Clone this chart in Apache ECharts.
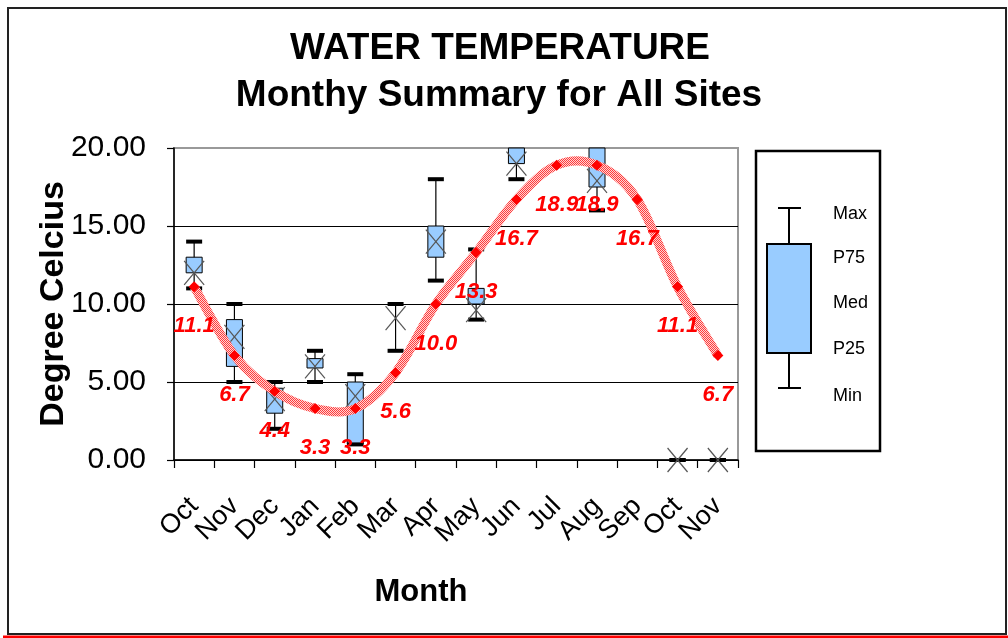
<!DOCTYPE html>
<html>
<head>
<meta charset="utf-8">
<script src="https://cdn.jsdelivr.net/npm/echarts@6/dist/echarts.min.js"></script>
<style>
html,body{margin:0;padding:0;background:#fff;}
#chart{width:1008px;height:638px;}
</style>
</head>
<body>
<div id="chart"></div>
<script>
// ---- data ----
const months = ['Oct','Nov','Dec','Jan','Feb','Mar','Apr','May','Jun','Jul','Aug','Sep','Oct','Nov'];
const boxMin = [11, 5, 2, 5, 1, 7, 11.5, 9, 18, null, 16, null, 0, 0];
const boxP25 = [12, 6, 3, 5.9, 1, null, 13, 10, 19, null, 17.5, null, null, null];
const boxP75 = [13, 9, 4.6, 6.5, 5, null, 15, 11, 20.5, null, 20.5, null, null, null];
const boxMax = [14, 10, 5, 7, 5.5, 10, 18, 13.5, 21, null, 21, null, 0, 0];
const boxMark = [12, 7.9, 3.9, 6.0, 4.1, 9.1, 14, 9.6, 19, null, 17.9, null, 0, 0];
const trend = [11.1, 6.7, 4.4, 3.3, 3.3, 5.6, 10.0, 13.3, 16.7, 18.9, 18.9, 16.7, 11.1, 6.7];
const yTicks = [0, 5, 10, 15, 20];
const legendLabels = ['Max', 'P75', 'Med', 'P25', 'Min'];

const FONT = "'Liberation Sans', Arial, sans-serif";

const boxData = months.map((m, i) => [i, boxMin[i], boxP25[i], boxMark[i], boxP75[i], boxMax[i]]);
const trendData = trend.map((v, i) => [i, v]);

// pattern for thick trend line
const pc = document.createElement('canvas');
pc.width = 2; pc.height = 2;
const pctx = pc.getContext('2d');
pctx.fillStyle = '#ffd4d4'; pctx.fillRect(0, 0, 2, 2);
pctx.fillStyle = '#ff3c3c'; pctx.fillRect(0, 0, 1, 1); pctx.fillRect(1, 1, 1, 1);

function renderBox(params, api) {
  const cs = params.coordSys;
  const top = cs.y, bottom = cs.y + cs.height;
  const idx = api.value(0);
  const vMin = api.value(1), vP25 = api.value(2), vMark = api.value(3), vP75 = api.value(4), vMax = api.value(5);
  if (vMin == null || isNaN(vMin)) return null;
  const cl = y => Math.max(top, Math.min(bottom, y));
  const xc = api.coord([idx, 0])[0];
  const y = v => api.coord([idx, v])[1];
  const hw = 8;
  const children = [];
  const yMin = y(vMin), yMax = y(vMax);
  children.push({type: 'line', shape: {x1: xc, y1: cl(yMax), x2: xc, y2: cl(yMin)}, style: {stroke: '#000', lineWidth: 1.2}});
  if (vP25 != null && !isNaN(vP25) && vP75 != null && !isNaN(vP75)) {
    const y1 = cl(y(vP75)), y2 = cl(y(vP25));
    children.push({type: 'rect', shape: {x: xc - hw, y: y1, width: hw * 2, height: y2 - y1},
      style: {fill: '#99ccff', stroke: '#000', lineWidth: 1}});
  }
  [yMax, yMin].forEach(yy => {
    if (yy >= top - 0.5 && yy <= bottom + 0.5) {
      children.push({type: 'rect', shape: {x: xc - hw, y: yy - 2, width: hw * 2, height: 4}, style: {fill: '#000'}});
    }
  });
  if (vMark != null && !isNaN(vMark)) {
    const ym = y(vMark);
    children.push({type: 'line', shape: {x1: xc - 10, y1: ym - 12, x2: xc + 10, y2: ym + 12}, style: {stroke: '#555', lineWidth: 1.2}});
    children.push({type: 'line', shape: {x1: xc + 10, y1: ym - 12, x2: xc - 10, y2: ym + 12}, style: {stroke: '#555', lineWidth: 1.2}});
  }
  return {type: 'group', children};
}

// Excel-like smoothed line: one cubic Bezier segment per interval (Catmull-Rom tangents)
function renderSpline(params, api) {
  const i = api.value(0);
  const n = trend.length;
  if (i >= n - 1) return null;
  const P = j => {
    const k = Math.max(0, Math.min(n - 1, j));
    return api.coord([k, trend[k]]);
  };
  const p0 = P(i - 1), p1 = P(i), p2 = P(i + 1), p3 = P(i + 2);
  const t = 1 / 6;
  return {
    type: 'bezierCurve',
    shape: {
      x1: p1[0], y1: p1[1], x2: p2[0], y2: p2[1],
      cpx1: p1[0] + (p2[0] - p0[0]) * t, cpy1: p1[1] + (p2[1] - p0[1]) * t,
      cpx2: p2[0] - (p3[0] - p1[0]) * t, cpy2: p2[1] - (p3[1] - p1[1]) * t
    },
    style: {fill: null, stroke: {image: pc, repeat: 'repeat'}, lineWidth: 9}
  };
}

const chart = echarts.init(document.getElementById('chart'), null, {renderer: 'canvas'});

const legendX = 756, legendY = 151;
const lgLabelY = [214, 258, 303, 349, 396];

const graphics = [
  {type: 'rect', shape: {x: 8, y: 8, width: 998, height: 626}, style: {fill: 'none', stroke: '#222', lineWidth: 2}, z: 0},
  {type: 'rect', shape: {x: 3, y: 635.5, width: 1005, height: 3}, style: {fill: '#ff0000'}, z: 0},
  {type: 'text', x: 500, y: 49, style: {text: 'WATER TEMPERATURE', font: "bold 37px " + FONT, fill: '#000', textAlign: 'center', textVerticalAlign: 'middle'}},
  {type: 'text', x: 499, y: 96, style: {text: 'Monthy Summary for All Sites', font: "bold 37px " + FONT, fill: '#000', textAlign: 'center', textVerticalAlign: 'middle'}},
  {type: 'text', x: 421, y: 592, style: {text: 'Month', font: "bold 31px " + FONT, fill: '#000', textAlign: 'center', textVerticalAlign: 'middle'}},
  {type: 'text', x: 54, y: 304, rotation: Math.PI / 2, style: {text: 'Degree Celcius', font: "bold 34px " + FONT, fill: '#000', textAlign: 'center', textVerticalAlign: 'middle'}},
  // legend
  {type: 'rect', shape: {x: legendX, y: legendY, width: 124, height: 300}, style: {fill: '#fff', stroke: '#000', lineWidth: 2.5}},
  {type: 'line', shape: {x1: 789, y1: 208, x2: 789, y2: 388}, style: {stroke: '#000', lineWidth: 2}},
  {type: 'line', shape: {x1: 778, y1: 208, x2: 801, y2: 208}, style: {stroke: '#000', lineWidth: 2}},
  {type: 'line', shape: {x1: 778, y1: 388, x2: 801, y2: 388}, style: {stroke: '#000', lineWidth: 2}},
  {type: 'rect', shape: {x: 767, y: 244, width: 44, height: 109}, style: {fill: '#99ccff', stroke: '#000', lineWidth: 2}}
];
legendLabels.forEach((t, i) => {
  graphics.push({type: 'text', x: 833, y: lgLabelY[i], style: {text: t, font: "18px " + FONT, fill: '#000', textAlign: 'left', textVerticalAlign: 'middle'}});
});

chart.setOption({
  animation: false,
  backgroundColor: '#fff',
  grid: {left: 174, right: 270, top: 148, bottom: 178, show: true, borderColor: '#999', borderWidth: 2, backgroundColor: 'transparent'},
  xAxis: {
    type: 'category',
    data: months,
    boundaryGap: true,
    axisLine: {lineStyle: {color: '#000', width: 1.5}},
    axisTick: {show: true, inside: false, length: 8, alignWithLabel: false, lineStyle: {color: '#000', width: 1.2}},
    axisLabel: {rotate: 45, interval: 0, margin: 42, fontSize: 27, color: '#000', fontFamily: FONT},
    splitLine: {show: false}
  },
  yAxis: {
    type: 'value',
    min: yTicks[0], max: yTicks[yTicks.length - 1], interval: 5,
    axisLine: {show: true, lineStyle: {color: '#000', width: 1.5}},
    axisTick: {show: true, inside: false, length: 7, lineStyle: {color: '#000', width: 1.2}},
    axisLabel: {margin: 28, fontSize: 30, color: '#000', fontFamily: FONT, formatter: v => v.toFixed(2)},
    splitLine: {show: true, lineStyle: {color: ['#000', '#000', '#000', '#000', '#999'], width: 1.2}}
  },
  graphic: graphics,
  series: [
    {
      type: 'custom',
      renderItem: renderBox,
      data: boxData,
      encode: {x: 0, y: [1, 2, 3, 4, 5]},
      z: 2,
      clip: false
    },
    {
      type: 'custom',
      renderItem: renderSpline,
      data: trendData,
      encode: {x: 0, y: 1},
      z: 3
    },
    {
      type: 'line',
      data: trend,
      symbol: 'diamond',
      symbolSize: 11,
      itemStyle: {color: '#ff0000'},
      lineStyle: {width: 0, opacity: 0},
      label: {show: true, position: 'bottom', distance: 23, color: '#ff0000', fontSize: 22, fontWeight: 'bold', fontStyle: 'italic', fontFamily: FONT, formatter: p => p.value.toFixed(1)},
      z: 4
    }
  ]
});
</script>
</body>
</html>
